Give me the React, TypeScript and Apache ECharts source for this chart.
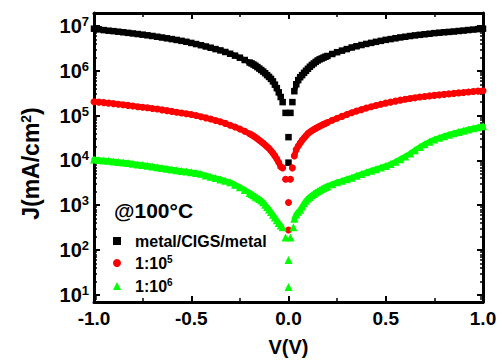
import React, { useEffect, useRef } from 'react';
import * as echarts from 'echarts';

// Voltage grids (V)
const vLeft = [-1.0,-0.975,-0.95,-0.925,-0.9,-0.875,-0.85,-0.825,-0.8,-0.775,-0.75,-0.725,-0.7,-0.675,-0.65,-0.625,-0.6,-0.575,-0.55,-0.525,-0.5,-0.475,-0.45,-0.425,-0.4,-0.375,-0.35,-0.325,-0.3,-0.275,-0.25,-0.225,-0.2,-0.19,-0.18,-0.17,-0.16,-0.15,-0.14,-0.13,-0.12,-0.11,-0.1,-0.09,-0.08,-0.07,-0.06,-0.05,-0.04];
const vRight = [0.03,0.04,0.05,0.06,0.07,0.08,0.09,0.1,0.11,0.12,0.13,0.14,0.15,0.16,0.17,0.18,0.19,0.2,0.225,0.25,0.275,0.3,0.325,0.35,0.375,0.4,0.425,0.45,0.475,0.5,0.525,0.55,0.575,0.6,0.625,0.65,0.675,0.7,0.725,0.75,0.775,0.8,0.825,0.85,0.875,0.9,0.925,0.95,0.975,1.0];

// metal/CIGS/metal (mA/cm^2)
const blackLeft = [8.7e6,8.4e6,8.1e6,7.85e6,7.67e6,7.45e6,7.24e6,7.03e6,6.82e6,6.61e6,6.41e6,6.19e6,5.98e6,5.75e6,5.53e6,5.31e6,5.1e6,4.88e6,4.66e6,4.44e6,4.19e6,3.95e6,3.72e6,3.49e6,3.27e6,3.05e6,2.85e6,2.63e6,2.4e6,2.18e6,1.96e6,1.74e6,1.53e6,1.46e6,1.38e6,1.3e6,1.21e6,1.12e6,1.04e6,9.6e5,8.8e5,8.0e5,7.3e5,6.6e5,5.8e5,4.9e5,4.1e5,3.3e5,2.6e5];
const blackRight = [3.5e5,5.0e5,6.2e5,7.2e5,8.0e5,9.0e5,1.0e6,1.11e6,1.23e6,1.35e6,1.46e6,1.58e6,1.7e6,1.8e6,1.88e6,1.97e6,2.06e6,2.14e6,2.37e6,2.6e6,2.82e6,3.05e6,3.31e6,3.53e6,3.76e6,3.98e6,4.2e6,4.43e6,4.66e6,4.9e6,5.1e6,5.32e6,5.56e6,5.75e6,5.97e6,6.17e6,6.35e6,6.53e6,6.71e6,6.92e6,7.08e6,7.24e6,7.38e6,7.53e6,7.73e6,7.91e6,8.13e6,8.32e6,8.51e6,8.71e6];
const blackZeroV = [-0.03, 0.02, -0.015, 0.01, 0, 0];
const blackZeroJ = [2.0e5, 2.0e5, 1.15e5, 1.15e5, 3.3e4, 8.9e3];

// 1:10^5
const redLeft = [2.04e5,2.0e5,1.95e5,1.9e5,1.85e5,1.79e5,1.74e5,1.69e5,1.63e5,1.58e5,1.53e5,1.49e5,1.44e5,1.4e5,1.34e5,1.29e5,1.24e5,1.19e5,1.14e5,1.1e5,1.06e5,1.0e5,9.46e4,8.9e4,8.36e4,7.8e4,7.28e4,6.7e4,6.1e4,5.56e4,5.0e4,4.47e4,3.94e4,3.72e4,3.5e4,3.27e4,3.05e4,2.82e4,2.61e4,2.42e4,2.21e4,2.02e4,1.84e4,1.64e4,1.45e4,1.26e4,1.07e4,9.0e3,7.2e3];
const redRight = [1.26e4,1.74e4,2.09e4,2.43e4,2.8e4,3.15e4,3.55e4,3.98e4,4.3e4,4.6e4,4.9e4,5.19e4,5.5e4,5.8e4,6.1e4,6.38e4,6.68e4,7.0e4,7.85e4,8.7e4,9.6e4,1.06e5,1.16e5,1.26e5,1.36e5,1.47e5,1.57e5,1.68e5,1.79e5,1.9e5,2.0e5,2.1e5,2.21e5,2.31e5,2.4e5,2.49e5,2.59e5,2.67e5,2.75e5,2.83e5,2.9e5,2.98e5,3.05e5,3.13e5,3.21e5,3.29e5,3.37e5,3.44e5,3.52e5,3.59e5];
const redZeroV = [-0.03, 0.02, -0.015, 0.01, 0, 0];
const redZeroJ = [6.8e3, 6.8e3, 3.8e3, 3.8e3, 1.15e3, 2.8e2];

// 1:10^6
const greenLeft = [1.05e4,1.02e4,1.0e4,9.8e3,9.5e3,9.25e3,9.0e3,8.7e3,8.4e3,8.13e3,7.85e3,7.59e3,7.33e3,7.05e3,6.76e3,6.52e3,6.28e3,6.05e3,5.82e3,5.62e3,5.43e3,5.25e3,5.0e3,4.6e3,4.3e3,4.03e3,3.76e3,3.5e3,3.24e3,2.85e3,2.51e3,2.19e3,1.88e3,1.78e3,1.66e3,1.55e3,1.46e3,1.38e3,1.28e3,1.16e3,1.02e3,9.1e2,8.0e2,7.0e2,6.1e2,5.3e2,4.6e2,4.0e2,3.5e2];
const greenRight = [5.0e2,6.2e2,7.1e2,7.9e2,9.3e2,1.1e3,1.26e3,1.41e3,1.53e3,1.66e3,1.78e3,1.93e3,2.04e3,2.16e3,2.29e3,2.43e3,2.54e3,2.66e3,2.95e3,3.24e3,3.5e3,3.8e3,4.12e3,4.52e3,4.95e3,5.43e3,5.89e3,6.38e3,6.92e3,7.5e3,8.3e3,9.3e3,1.06e4,1.22e4,1.42e4,1.68e4,1.98e4,2.3e4,2.62e4,2.92e4,3.2e4,3.47e4,3.75e4,4.04e4,4.32e4,4.6e4,4.9e4,5.19e4,5.5e4,5.75e4];
const greenZeroV = [-0.03, 0.025, -0.015, 0.01, 0, 0];
const greenZeroJ = [3.2e2, 3.2e2, 1.9e2, 1.9e2, 60, 15];

const seriesNames = ['metal/CIGS/metal', '1:10^5', '1:10^6'];
const seriesColors = ['#000000', '#ff0000', '#00ff00'];
const yMajor = [1e1, 1e2, 1e3, 1e4, 1e5, 1e6, 1e7];
const yMinorMult = [2, 3, 4, 5, 6, 7, 8, 9];
const yMinDecades = [1, 1e1, 1e2, 1e3, 1e4, 1e5, 1e6];

const FONT = '"Liberation Sans", Arial, Helvetica, sans-serif';

function pairs(vs: number[], js: number[]) {
  return vs.map((v, i) => [v, js[i]]);
}

export default function App() {
  const ref = useRef<HTMLDivElement>(null);
  useEffect(() => {
    const chart = echarts.init(ref.current!, null, { renderer: 'svg', width: 502, height: 361 });
    const Y_MIN = 6.9;
    const Y_MAX = 1.95e7;
    const yMinor: number[] = [];
    yMinDecades.forEach(d => yMinorMult.forEach(m => { const v = m * d; if (v > Y_MIN && v < Y_MAX) yMinor.push(v); }));

    const gridBox = { left: 94, right: 19, top: 13, bottom: 59, outerBoundsMode: 'none', containLabel: false };
    const line = { show: true, onZero: false, lineStyle: { color: '#000', width: 3 } };
    const noLine = { show: false, onZero: false };
    const tickMaj = { show: true, inside: true, length: 6, lineStyle: { color: '#000', width: 2 } };
    const tickMin = { show: true, inside: true, length: 3, lineStyle: { color: '#000', width: 1.5 } };
    const supRich = {
      b: { fontFamily: FONT, fontWeight: 'bold', fontSize: 20, color: '#000', lineHeight: 22 },
      sup: { fontFamily: FONT, fontWeight: 'bold', fontSize: 13, color: '#000', lineHeight: 22, padding: [0, 0, 9, 0] },
    };

    const branches = [
      [blackLeft, blackRight],
      [redLeft, redRight],
      [greenLeft, greenRight],
    ];
    const zeros = [
      [blackZeroV, blackZeroJ],
      [redZeroV, redZeroJ],
      [greenZeroV, greenZeroJ],
    ];
    const bandWidths = [5, 5.5, 5.5];
    const symbols = ['rect', 'circle', 'triangle'];
    const symbolSizes = [6.5, 7, 8];

    // continuous band under the markers (left branch, gap, right branch)
    const bandSeries = branches.map(([l, r], i) => ({
      name: '_band' + i, type: 'line', xAxisIndex: 0, yAxisIndex: 0,
      showSymbol: false, symbol: 'none', silent: true, connectNulls: false,
      lineStyle: { color: seriesColors[i], width: bandWidths[i], join: 'round', cap: 'round' },
      data: [...pairs(vLeft, l), [0, '-'], ...pairs(vRight, r)],
    }));
    const scatterSeries = branches.map(([l, r], i) => ({
      name: seriesNames[i], type: 'scatter', xAxisIndex: 0, yAxisIndex: 0,
      symbol: symbols[i], symbolSize: symbolSizes[i], itemStyle: { color: seriesColors[i], opacity: 1 },
      data: [...pairs(vLeft, l), ...pairs(vRight, r), ...pairs(zeros[i][0], zeros[i][1])],
    }));

    const option: any = {
      animation: false,
      backgroundColor: '#fff',
      grid: [gridBox, { ...gridBox }],
      xAxis: [
        {
          gridIndex: 0, type: 'value', position: 'bottom', min: -1, max: 1, interval: 0.5,
          axisLine: line, axisTick: tickMaj,
          minorTick: { ...tickMin, splitNumber: 2, length: 4 },
          splitLine: { show: false },
          axisLabel: { show: true, margin: 7, color: '#000', fontFamily: FONT, fontWeight: 'bold', fontSize: 19, formatter: (v: number) => v.toFixed(1) },
          name: 'V(V)', nameLocation: 'middle', nameGap: 35,
          nameTextStyle: { color: '#000', fontFamily: FONT, fontWeight: 'bold', fontSize: 20 },
        },
        {
          gridIndex: 0, type: 'value', position: 'top', min: -1, max: 1, interval: 0.5,
          axisLine: line, axisTick: tickMaj,
          minorTick: { ...tickMin, splitNumber: 2, length: 4 },
          splitLine: { show: false }, axisLabel: { show: false },
        },
        { gridIndex: 1, type: 'value', min: -1, max: 1, show: false, axisLine: noLine },
      ],
      yAxis: [
        {
          gridIndex: 0, type: 'log', position: 'left', min: Y_MIN, max: Y_MAX,
          axisLine: line,
          axisTick: { ...tickMaj, customValues: yMajor },
          splitLine: { show: false }, minorTick: { show: false },
          axisLabel: {
            show: true, margin: 5, customValues: yMajor,
            formatter: (v: number) => `{b|10}{sup|${Math.round(Math.log10(v))}}`,
            rich: supRich,
          },
          name: '{b|J(mA/cm}{sup|2}{b|)}', nameLocation: 'middle', nameGap: 50, nameRotate: 90,
          nameTextStyle: {
            padding: [0, 12, 0, 0],
            rich: {
              b: { fontFamily: FONT, fontWeight: 'bold', fontSize: 23, color: '#000', lineHeight: 26 },
              sup: { fontFamily: FONT, fontWeight: 'bold', fontSize: 14, color: '#000', lineHeight: 26, padding: [0, 0, 11, 0] },
            },
          },
        },
        {
          gridIndex: 0, type: 'log', position: 'right', min: Y_MIN, max: Y_MAX,
          axisLine: line,
          axisTick: { ...tickMaj, customValues: yMajor },
          splitLine: { show: false }, minorTick: { show: false }, axisLabel: { show: false },
        },
        {
          gridIndex: 1, type: 'log', position: 'left', min: Y_MIN, max: Y_MAX,
          axisLine: noLine,
          axisTick: { ...tickMin, customValues: yMinor },
          splitLine: { show: false }, axisLabel: { show: false },
        },
        {
          gridIndex: 1, type: 'log', position: 'right', min: Y_MIN, max: Y_MAX,
          axisLine: noLine,
          axisTick: { ...tickMin, customValues: yMinor },
          splitLine: { show: false }, axisLabel: { show: false },
        },
      ],
      legend: {
        show: true, orient: 'vertical', left: 108, top: 228, itemGap: 5,
        itemWidth: 8, itemHeight: 8,
        data: seriesNames,
        formatter: (name: string) => {
          const m = name.match(/^(.*)\^(\d)$/);
          return m ? `{t|${m[1]}}{s|${m[2]}}` : `{t|${name}}`;
        },
        textStyle: {
          color: '#000',
          rich: {
            t: { fontFamily: FONT, fontWeight: 'bold', fontSize: 16, color: '#000', lineHeight: 16, padding: [0, 0, 0, 9] },
            s: { fontFamily: FONT, fontWeight: 'bold', fontSize: 10, color: '#000', lineHeight: 16, padding: [0, 0, 8, 0] },
          },
        },
      },
      graphic: [
        {
          type: 'text', left: 114, top: 200,
          style: { text: '@100\u00B0C', fill: '#000', font: `bold 21px ${FONT}` },
        },
      ],
      series: [...bandSeries, ...scatterSeries],
    };
    chart.setOption(option);
    return () => chart.dispose();
  }, []);
  return <div ref={ref} style={{ position: 'fixed', left: 0, top: 0, width: 502, height: 361, background: '#fff' }} />;
}
